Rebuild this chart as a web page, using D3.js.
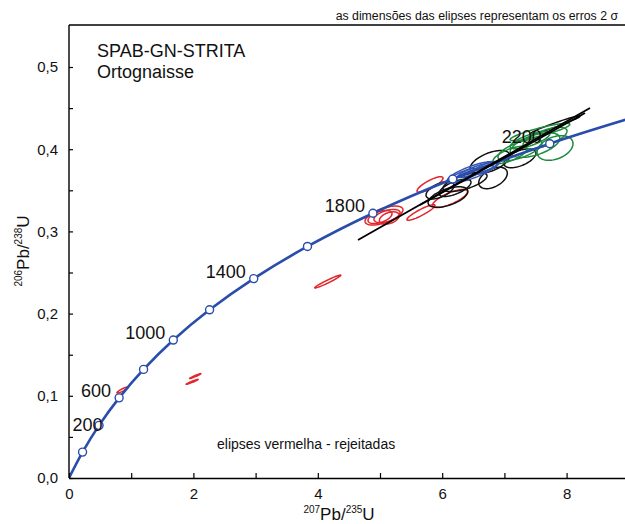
<!DOCTYPE html>
<html>
<head>
<meta charset="utf-8">
<script src="https://cdn.jsdelivr.net/npm/d3@7"></script>
<style>
  html, body { margin: 0; padding: 0; background: #fff; }
  svg { display: block; font-family: "Liberation Sans", Arial, sans-serif; }
</style>
</head>
<body>
<div id="chart"></div>
<script>
// ---- data ----
// concordia age marks (Ma) and their 207Pb/235U, 206Pb/238U positions
const ages  = [200, 400, 600, 800, 1000, 1200, 1400, 1600, 1800, 2000, 2200];
const concX = [0.218, 0.483, 0.806, 1.199, 1.677, 2.260, 2.970, 3.834, 4.886, 6.169, 7.729];
const concY = [0.0315, 0.0640, 0.0975, 0.1321, 0.1678, 0.2046, 0.2426, 0.2817, 0.3221, 0.3638, 0.4067];
const concEnd = [9.0, 0.437];
const labelAges = [200, 600, 1000, 1400, 1800, 2200];

const xTicks = [0, 1, 2, 3, 4, 5, 6, 7, 8, 9];
const yTicks = [0, 0.05, 0.1, 0.15, 0.2, 0.25, 0.3, 0.35, 0.4, 0.45, 0.5];

// spots: [207Pb/235U, 206Pb/238U, 2s x, 2s y, rho]
const rejected = [
  [0.86, 0.107, 0.09, 0.0037, 0.9],
  [1.98, 0.117, 0.096, 0.003, 0.97],
  [2.03, 0.124, 0.09, 0.003, 0.97],
  [4.16, 0.239, 0.21, 0.0079, 0.97],
  [5.064, 0.3193, 0.305, 0.0115, 0.6],
  [5.113, 0.3187, 0.21, 0.008, 0.5],
  [5.15, 0.3163, 0.16, 0.0075, 0.4],
  [5.0, 0.3175, 0.193, 0.008, 0.5],
  [5.659, 0.323, 0.225, 0.0095, 0.9],
  [5.804, 0.357, 0.209, 0.0095, 0.82],
  [6.125, 0.340, 0.281, 0.011, 0.75]
];
const groupBlue = [
  [6.479, 0.372, 0.40, 0.013, 0.8],
  [6.576, 0.375, 0.32, 0.0095, 0.85],
  [6.367, 0.3686, 0.24, 0.008, 0.75],
  [6.688, 0.377, 0.225, 0.008, 0.8],
  [6.55, 0.373, 0.28, 0.007, 0.9]
];
const groupBlack = [
  [6.093, 0.3418, 0.32, 0.0125, 0.55],
  [6.367, 0.360, 0.354, 0.0115, 0.65],
  [6.768, 0.3844, 0.32, 0.014, 0.55],
  [6.817, 0.365, 0.23, 0.013, 0.45],
  [6.206, 0.353, 0.257, 0.0105, 0.65],
  [7.251, 0.389, 0.257, 0.0115, 0.55],
  [7.814, 0.4294, 0.40, 0.011, 0.97],
  [5.965, 0.350, 0.225, 0.0105, 0.55]
];
const groupGreen = [
  [7.492, 0.405, 0.40, 0.015, 0.55],
  [7.251, 0.399, 0.354, 0.013, 0.65],
  [7.653, 0.4136, 0.354, 0.013, 0.65],
  [7.814, 0.4015, 0.289, 0.015, 0.35],
  [7.09, 0.393, 0.273, 0.0105, 0.7],
  [7.572, 0.421, 0.48, 0.0105, 0.88],
  [7.412, 0.411, 0.32, 0.0105, 0.75]
];

// discordia lines: [x1, y1, x2, y2]
const discordia = [
  [4.646, 0.2895, 8.376, 0.4501],
  [5.643, 0.3321, 8.296, 0.4440]
];

// ---- chart ----
const W = 625, H = 524;
const svg = d3.select("#chart").append("svg").attr("width", W).attr("height", H);

const x = d3.scaleLinear().domain([0, 9]).range([69, 628.8]);
const y = d3.scaleLinear().domain([0, 0.55]).range([478, 25.9]);

svg.append("clipPath").attr("id", "plot")
  .append("rect").attr("x", 69).attr("y", 25).attr("width", 562).attr("height", 453);

const blue = "#2a4dab";
const plot = svg.append("g").attr("clip-path", "url(#plot)");

// ellipses
function ellipsePath(d) {
  const [cx, cy, ex, ey, rho] = d;
  const pts = d3.range(0, 64).map(i => {
    const t = i / 64 * 2 * Math.PI;
    return [x(cx + ex * Math.cos(t)),
            y(cy + ey * (rho * Math.cos(t) + Math.sqrt(1 - rho * rho) * Math.sin(t)))];
  });
  return d3.line().curve(d3.curveLinearClosed)(pts);
}

function drawSpots(data, color) {
  plot.append("g").selectAll("path")
    .data(data).enter().append("path")
    .attr("d", ellipsePath)
    .attr("fill", "none")
    .attr("stroke", color)
    .attr("stroke-width", 1.5);
}
drawSpots(rejected, "#e3262b");
drawSpots(groupBlack, "#111");
drawSpots(groupGreen, "#1e8a3c");
drawSpots(groupBlue, "#3556b4");

// concordia curve
const concPts = [[0, 0]].concat(concX.map((v, i) => [v, concY[i]]), [concEnd]);
plot.append("path")
  .attr("d", d3.line().x(d => x(d[0])).y(d => y(d[1])).curve(d3.curveCatmullRom)(concPts))
  .attr("fill", "none")
  .attr("stroke", blue)
  .attr("stroke-width", 2.6);

// discordia lines
plot.selectAll(".disc").data(discordia).enter().append("line")
  .attr("x1", d => x(d[0])).attr("y1", d => y(d[1]))
  .attr("x2", d => x(d[2])).attr("y2", d => y(d[3]))
  .attr("stroke", "#000").attr("stroke-width", 1.8);

// age markers
plot.selectAll(".mark").data(ages).enter().append("circle")
  .attr("cx", (d, i) => x(concX[i]))
  .attr("cy", (d, i) => y(concY[i]))
  .attr("r", 4)
  .attr("fill", "#fff")
  .attr("stroke", blue)
  .attr("stroke-width", 1.4);

// age labels
const labelShift = { 200: [20, -21] };
svg.selectAll(".age").data(labelAges).enter().append("text")
  .attr("x", d => { const i = ages.indexOf(d); return x(concX[i]) + (labelShift[d] ? labelShift[d][0] : -8); })
  .attr("y", d => { const i = ages.indexOf(d); return y(concY[i]) + (labelShift[d] ? labelShift[d][1] : -1); })
  .attr("text-anchor", "end")
  .attr("font-size", 18)
  .attr("fill", "#111")
  .text(d => d);

// axes
const xAxis = d3.axisBottom(x)
  .tickValues(xTicks)
  .tickSizeInner(-5).tickSizeOuter(0).tickPadding(10)
  .tickFormat(d => d % 2 === 0 ? d : "");
const gx = svg.append("g").attr("transform", "translate(0,478)").call(xAxis);

const yAxis = d3.axisLeft(y)
  .tickValues(yTicks)
  .tickSizeInner(-4).tickSizeOuter(0).tickPadding(11)
  .tickFormat(d => Math.abs(d * 10 - Math.round(d * 10)) < 1e-6 ? d3.format(".1f")(d).replace(".", ",") : "");
const gy = svg.append("g").attr("transform", "translate(69,0)").call(yAxis);

[gx, gy].forEach(g => {
  g.select(".domain").attr("stroke", "#000").attr("stroke-width", 1.4);
  g.selectAll(".tick line").attr("stroke", "#000").attr("stroke-width", 1.2);
  g.selectAll(".tick text").attr("font-size", 15).attr("fill", "#111")
    .attr("font-family", "Liberation Sans, Arial, sans-serif");
});
gy.select(".domain").attr("d", "M0,478V25");

// top frame line
svg.append("line").attr("x1", 69).attr("x2", W).attr("y1", 25).attr("y2", 25)
  .attr("stroke", "#000").attr("stroke-width", 1.4);

// axis titles
const xt = svg.append("text").attr("x", 339).attr("y", 520)
  .attr("text-anchor", "middle").attr("font-size", 17).attr("fill", "#111");
xt.append("tspan").attr("font-size", 10).attr("dy", -7).text("207");
xt.append("tspan").attr("dy", 7).text("Pb/");
xt.append("tspan").attr("font-size", 10).attr("dy", -7).text("235");
xt.append("tspan").attr("dy", 7).text("U");

const yt = svg.append("text")
  .attr("transform", "translate(29,251) rotate(-90)")
  .attr("text-anchor", "middle").attr("font-size", 17).attr("fill", "#111");
yt.append("tspan").attr("font-size", 10).attr("dy", -7).text("206");
yt.append("tspan").attr("dy", 7).text("Pb/");
yt.append("tspan").attr("font-size", 10).attr("dy", -7).text("238");
yt.append("tspan").attr("dy", 7).text("U");

// annotations
svg.append("text").attr("x", 618).attr("y", 20).attr("text-anchor", "end")
  .attr("font-size", 12.3).attr("fill", "#111")
  .text("as dimensões das elipses representam os erros 2 σ");

svg.append("text").attr("x", 97).attr("y", 57).attr("font-size", 18).attr("fill", "#111")
  .text("SPAB-GN-STRITA");
svg.append("text").attr("x", 97).attr("y", 78).attr("font-size", 18).attr("fill", "#111")
  .text("Ortognaisse");

svg.append("text").attr("x", 217).attr("y", 449).attr("font-size", 14).attr("fill", "#111")
  .text("elipses vermelha - rejeitadas");
</script>
</body>
</html>
